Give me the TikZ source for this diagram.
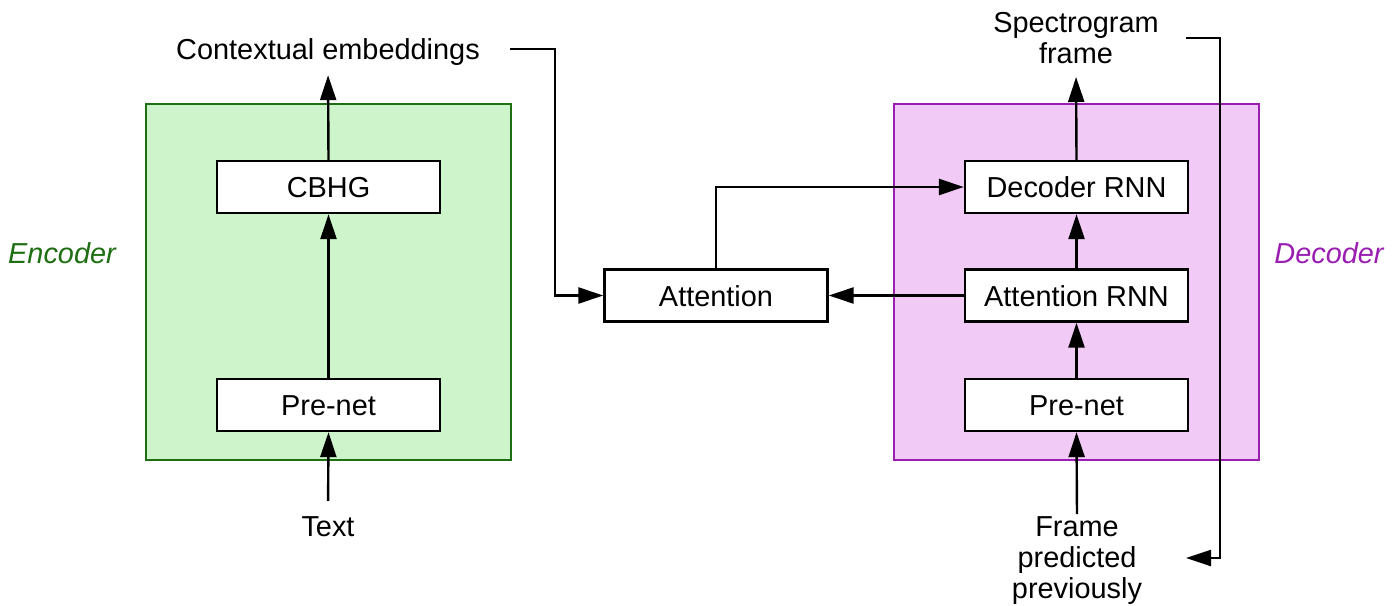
\documentclass[tikz,border=0pt]{standalone}
\usepackage{fontspec}
\setmainfont{Liberation Sans}
\usetikzlibrary{arrows.meta}
\definecolor{encfill}{HTML}{CDF4CA}
\definecolor{encline}{HTML}{1E6E12}
\definecolor{decfill}{HTML}{F1CBF6}
\definecolor{decline}{HTML}{9A1EB2}
\begin{document}
\begin{tikzpicture}[x=1bp,y=-1bp,
  font=\fontsize{29}{31.5}\selectfont,
  blk/.style={draw=black, line width=2.4bp, fill=white, minimum width=223bp,
    minimum height=52bp, inner sep=0pt, text height=21bp, text depth=0pt},
  group/.style={line width=2bp, minimum width=365bp, minimum height=356bp, inner sep=0pt},
  lbl/.style={inner sep=0pt, align=center},
  flow/.style={line width=2.4bp, -{Triangle[length=25bp,width=16bp]}},
  wire/.style={line width=2.4bp}
]
\useasboundingbox (0,0) rectangle (1397,606);

% group panels
\node[group, draw=encline, fill=encfill] (enc) at (328.5,282) {};
\node[group, draw=decline, fill=decfill] (dec) at (1076.5,282) {};

% side labels
\node[lbl, anchor=base, text=encline, font=\fontsize{29}{31.5}\selectfont\itshape] (enclbl) at (62,263) {Encoder};
\node[lbl, anchor=base, text=decline, font=\fontsize{29}{31.5}\selectfont\itshape] (declbl) at (1329,263) {Decoder};

% blocks
\node[blk] (cbhg) at (328.5,187) {CBHG};
\node[blk] (eprenet) at (328.5,405) {Pre-net};
\node[blk] (att) at (716,295.5) {Attention};
\node[blk] (decrnn) at (1076.5,187) {Decoder RNN};
\node[blk] (attrnn) at (1076.5,295.5) {Attention RNN};
\node[blk] (dprenet) at (1076.5,405) {Pre-net};

% free labels
\node[lbl, anchor=base] (ctx) at (328,60) {Contextual embeddings};
\node[lbl, anchor=base] (txt) at (328,536) {Text};
\node[lbl, anchor=south, text depth=0pt] (spec) at (1076,64) {Spectrogram\\frame};
\node[lbl, anchor=north] (prev) at (1077,516) {Frame\\predicted\\previously};

% connector corners
\coordinate (ctxstart) at (510,49);
\coordinate (ctxbend) at (555,49);
\coordinate (fbstart) at (1186,38);
\coordinate (fbtop) at (1220,38);
\coordinate (fbbot) at (1220,558);
\coordinate (fbend) at (1186,558);

% encoder flow
\draw[flow, shorten <=15bp] (txt.north) -- (eprenet.south);
\draw[flow] (eprenet.north) -- (cbhg.south);
\draw[flow, shorten >=9bp] (cbhg.north) -- (ctx.south);

% attention links
\draw[flow] (ctxstart) -- (ctxbend) |- (att.west);
\draw[flow] (attrnn.west) -- (att.east);
\draw[flow] (att.north) |- (decrnn.west);

% decoder flow
\draw[flow, shorten <=2bp] (prev.north) -- (dprenet.south);
\draw[flow] (dprenet.north) -- (attrnn.south);
\draw[flow] (attrnn.north) -- (decrnn.south);
\draw[flow, shorten >=13bp] (decrnn.north) -- (spec.south);

% feedback of the predicted frame
\draw[flow] (fbstart) -- (fbtop) -- (fbbot) -- (fbend);
\end{tikzpicture}
\end{document}
